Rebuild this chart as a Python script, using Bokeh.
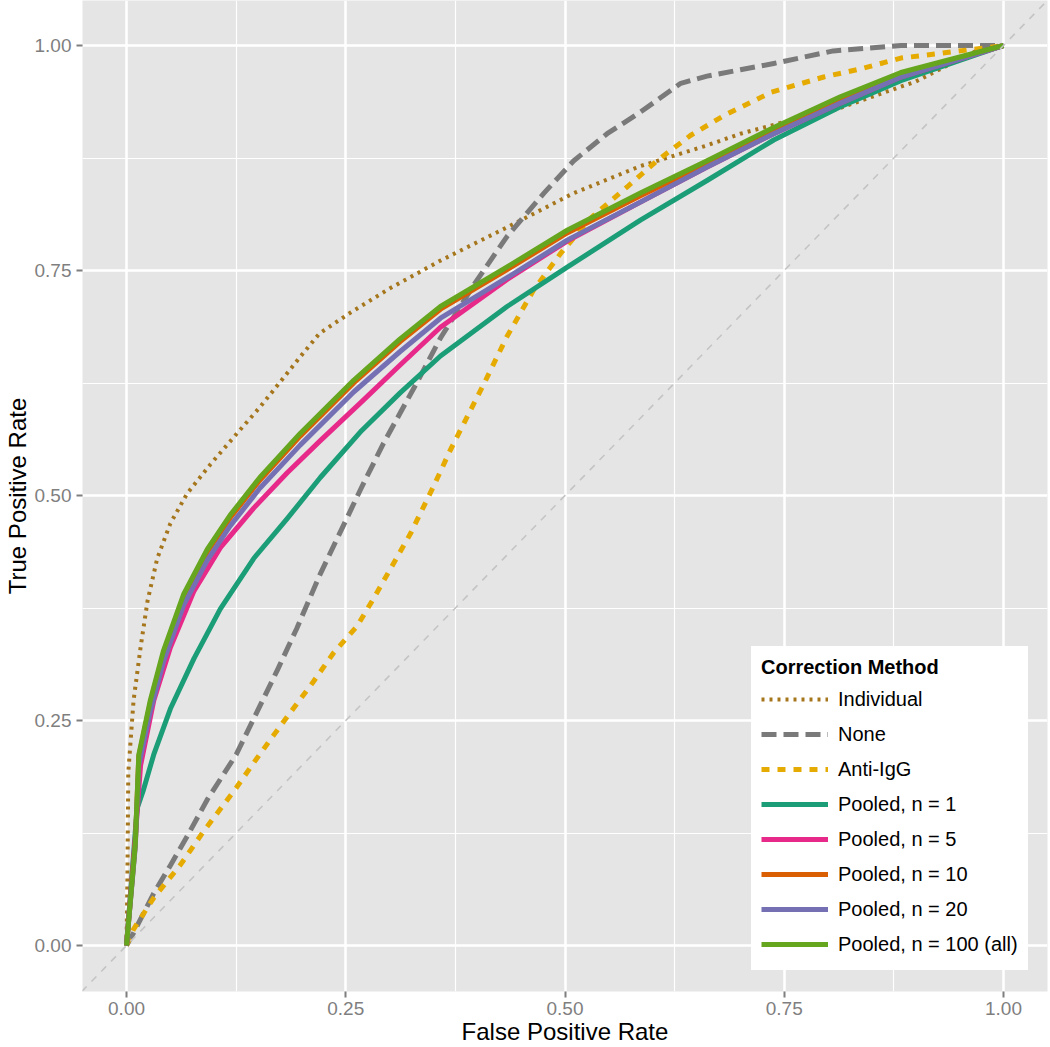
from bokeh.plotting import figure
from bokeh.models import Range1d, FixedTicker, NumeralTickFormatter, Slope
from bokeh.embed import file_html
from bokeh.resources import INLINE

# ---- data ----
ind_fpr = [0, 0.001, 0.002, 0.008, 0.016, 0.024, 0.035, 0.05, 0.069, 0.096, 0.126, 0.152, 0.171, 0.198,
           0.22, 0.255, 0.30, 0.358, 0.434, 0.51, 0.586, 0.662, 0.70, 0.75, 0.806, 0.90, 0.977, 1.0]
ind_tpr = [0, 0.073, 0.192, 0.272, 0.331, 0.383, 0.43, 0.469, 0.502, 0.535, 0.569, 0.598, 0.621, 0.654,
           0.68, 0.703, 0.73, 0.761, 0.798, 0.836, 0.866, 0.889, 0.902, 0.915, 0.928, 0.96, 0.998, 1.0]

none_fpr = [0, 0.008, 0.031, 0.05, 0.069, 0.092, 0.125, 0.145, 0.172, 0.194, 0.221, 0.247, 0.267, 0.293,
            0.332, 0.358, 0.396, 0.434, 0.476, 0.51, 0.548, 0.586, 0.632, 0.662, 0.70, 0.738, 0.806,
            0.883, 1.0]
none_tpr = [0, 0.014, 0.058, 0.089, 0.121, 0.162, 0.212, 0.252, 0.306, 0.352, 0.413, 0.466, 0.507, 0.558,
            0.627, 0.675, 0.734, 0.788, 0.836, 0.872, 0.902, 0.926, 0.958, 0.966, 0.973, 0.98, 0.994,
            1.0, 1.0]

igg_fpr = [0, 0.008, 0.031, 0.061, 0.088, 0.125, 0.145, 0.168, 0.19, 0.213, 0.236, 0.263, 0.282, 0.324,
           0.35, 0.369, 0.408, 0.434, 0.464, 0.495, 0.529, 0.571, 0.605, 0.643, 0.681, 0.735, 0.795,
           0.837, 0.883, 0.959, 1.0]
igg_tpr = [0, 0.018, 0.053, 0.089, 0.127, 0.175, 0.203, 0.234, 0.263, 0.293, 0.325, 0.355, 0.386, 0.458,
           0.51, 0.55, 0.625, 0.677, 0.728, 0.769, 0.808, 0.843, 0.872, 0.9, 0.922, 0.948, 0.965,
           0.974, 0.986, 0.995, 1.0]

p1_fpr = [0, 0.012, 0.019, 0.031, 0.05, 0.077, 0.107, 0.145, 0.183, 0.221, 0.268, 0.312, 0.358, 0.434,
          0.503, 0.586, 0.662, 0.738, 0.814, 0.883, 1.0]
p1_tpr = [0, 0.152, 0.172, 0.212, 0.263, 0.319, 0.374, 0.43, 0.474, 0.52, 0.572, 0.614, 0.655, 0.71,
          0.754, 0.806, 0.85, 0.895, 0.932, 0.961, 1.0]

p5_fpr = [0, 0.010, 0.016, 0.031, 0.05, 0.077, 0.107, 0.145, 0.183, 0.221, 0.268, 0.312, 0.358, 0.434,
          0.503, 0.586, 0.662, 0.738, 0.814, 0.883, 1.0]
p5_tpr = [0, 0.12, 0.2, 0.272, 0.331, 0.394, 0.442, 0.486, 0.525, 0.561, 0.604, 0.645, 0.687, 0.740,
          0.783, 0.826, 0.865, 0.902, 0.936, 0.965, 1.0]

pool_fpr = [0, 0.010, 0.014, 0.027, 0.042, 0.065, 0.092, 0.118, 0.152, 0.198, 0.259, 0.312, 0.358,
            0.434, 0.503, 0.586, 0.662, 0.738, 0.814, 0.883, 1.0]
p10_tpr = [0, 0.113, 0.21, 0.269, 0.324, 0.387, 0.437, 0.475, 0.517, 0.566, 0.625, 0.671, 0.707,
           0.751, 0.792, 0.833, 0.869, 0.906, 0.94, 0.968, 1.0]
p20_tpr = [0, 0.11, 0.2, 0.26, 0.315, 0.378, 0.428, 0.466, 0.508, 0.556, 0.615, 0.66, 0.697,
           0.742, 0.784, 0.826, 0.865, 0.902, 0.936, 0.965, 1.0]
p100_tpr = [0, 0.113, 0.212, 0.272, 0.327, 0.39, 0.44, 0.478, 0.52, 0.569, 0.628, 0.674, 0.71,
            0.754, 0.795, 0.836, 0.872, 0.909, 0.943, 0.97, 1.0]

major_ticks = [0, 0.25, 0.5, 0.75, 1.0]
minor_ticks = [0.125, 0.375, 0.625, 0.875]

FONT = "Liberation Sans"

p = figure(width=1050, height=1047, output_backend="svg", toolbar_location=None,
           x_range=Range1d(-0.0502, 1.0502), y_range=Range1d(-0.0511, 1.05),
           min_border_left=82, min_border_right=3, min_border_top=0, min_border_bottom=55)
p.background_fill_color = "#E5E5E5"
p.border_fill_color = "white"
p.outline_line_color = None

for ax in (p.xaxis, p.yaxis):
    ax.ticker = FixedTicker(ticks=major_ticks, minor_ticks=minor_ticks)
    ax.formatter = NumeralTickFormatter(format="0.00")
    ax.axis_line_color = None
    ax.major_tick_line_color = "#7F7F7F"
    ax.major_tick_line_width = 2
    ax.major_tick_in = 0
    ax.major_tick_out = 6
    ax.minor_tick_line_color = None
    ax.major_label_text_color = "#7F7F7F"
    ax.major_label_text_font = FONT
    ax.major_label_text_font_size = "19px"
    ax.axis_label_text_font = FONT
    ax.axis_label_text_font_size = "24px"
    ax.axis_label_text_font_style = "normal"
    ax.axis_label_text_color = "black"
    ax.major_label_standoff = 5
    ax.axis_label_standoff = 1

p.xaxis.major_label_standoff = 4
p.xaxis.axis_label_standoff = 0
p.xaxis.axis_label = "False Positive Rate"
p.yaxis.axis_label = "True Positive Rate"

for g in (p.xgrid, p.ygrid):
    g.grid_line_color = "white"
    g.grid_line_width = 2.5
    g.minor_grid_line_color = "white"
    g.minor_grid_line_width = 1.2

p.add_layout(Slope(gradient=1, y_intercept=0, line_color="#C4C4C4", line_width=1.6, line_dash="7 7"))

p.line(ind_fpr, ind_tpr, color="#A6761D", line_width=4, line_dash="3 5", legend_label="Individual",
       line_join="round")
p.line(none_fpr, none_tpr, color="#7A7A7A", line_width=5, line_dash="15 7", legend_label="None",
       line_join="round")
p.line(igg_fpr, igg_tpr, color="#E6AB02", line_width=5, line_dash="8 8", legend_label="Anti-IgG",
       line_join="round")
p.line(p1_fpr, p1_tpr, color="#1B9E77", line_width=5, legend_label="Pooled, n = 1", line_join="round")
p.line(p5_fpr, p5_tpr, color="#E7298A", line_width=5, legend_label="Pooled, n = 5", line_join="round")
p.line(pool_fpr, p10_tpr, color="#D95F02", line_width=5, legend_label="Pooled, n = 10", line_join="round")
p.line(pool_fpr, p20_tpr, color="#7570B3", line_width=5, legend_label="Pooled, n = 20", line_join="round")
p.line(pool_fpr, p100_tpr, color="#66A61E", line_width=5, legend_label="Pooled, n = 100 (all)",
       line_join="round")

lg = p.legend[0]
lg.title = "Correction Method"
lg.title_text_font = FONT
lg.title_text_font_style = "bold"
lg.title_text_font_size = "20px"
lg.title_text_color = "black"
lg.title_standoff = 4
lg.label_text_font = FONT
lg.label_text_font_size = "20px"
lg.label_text_color = "black"
lg.glyph_width = 67
lg.glyph_height = 32
lg.label_height = 32
lg.label_standoff = 10
lg.spacing = 3
lg.padding = 9
lg.margin = 0
lg.border_line_color = "white"
lg.border_line_width = 1
lg.background_fill_color = "white"
lg.background_fill_alpha = 1
lg.location = (669, 21)

open("out.html", "w").write(file_html(p, INLINE))
